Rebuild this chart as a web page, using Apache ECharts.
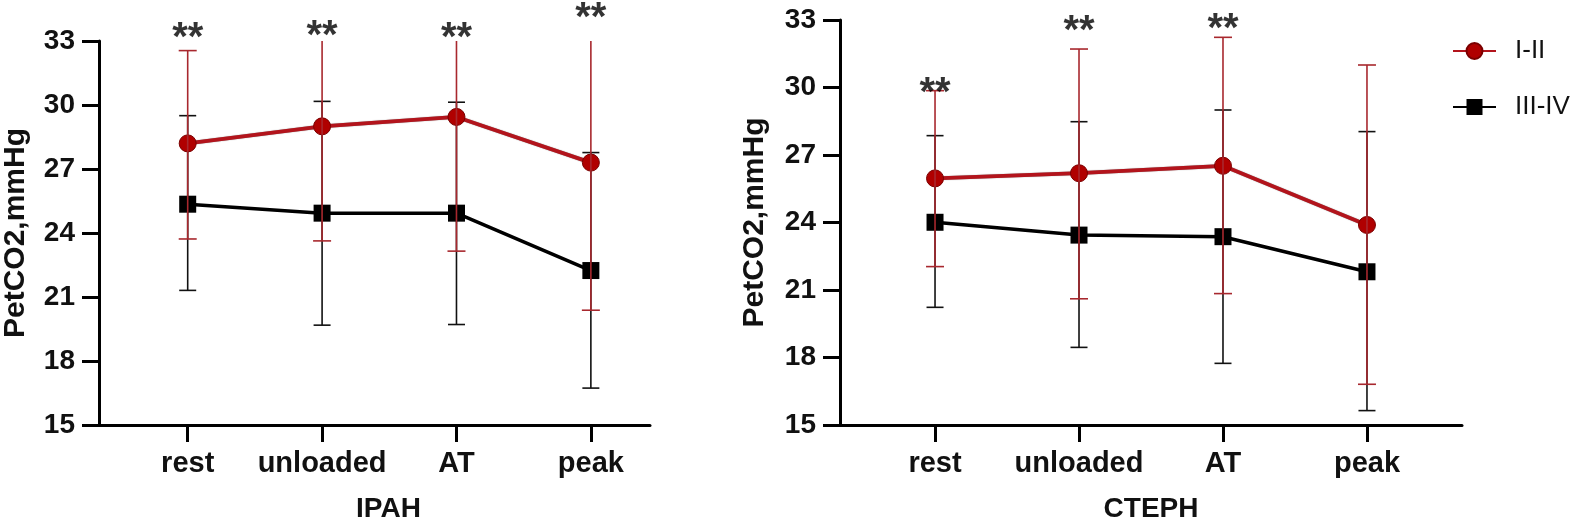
<!DOCTYPE html>
<html>
<head>
<meta charset="utf-8">
<script src="https://cdn.jsdelivr.net/npm/echarts@6/dist/echarts.min.js"></script>
<style>
html,body{margin:0;padding:0;background:#fff;}
#chart{width:1592px;height:528px;}
</style>
</head>
<body>
<div id="chart"></div>
<script>
// ---- data ----
const categories = ['rest', 'unloaded', 'AT', 'peak'];
const yTickMin = 15, yTickMax = 33, yTickStep = 3;
const seriesNames = ['I-II', 'III-IV'];

// IPAH
const ipahMildMean = [28.2, 29.0, 29.44, 27.3];
const ipahMildLow = [23.72, 23.63, 23.15, 20.38];
const ipahMildHigh = [32.55, 34.37, 35.73, 34.22];
const ipahSevereMean = [25.35, 24.93, 24.93, 22.24];
const ipahSevereLow = [21.31, 19.68, 19.71, 16.73];
const ipahSevereHigh = [29.5, 30.17, 30.13, 27.77];
const ipahStars = ['**', '**', '**', '**'];
const ipahStarY = [33.56, 33.66, 33.56, 34.5];

// CTEPH
const ctephMildMean = [25.96, 26.19, 26.52, 23.89];
const ctephMildLow = [22.04, 20.61, 20.84, 16.81];
const ctephMildHigh = [29.86, 31.71, 32.23, 31.0];
const ctephSevereMean = [24.01, 23.44, 23.37, 21.81];
const ctephSevereLow = [20.23, 18.45, 17.74, 15.64];
const ctephSevereHigh = [27.86, 28.48, 29.0, 28.04];
const ctephStars = ['**', '**', '**', ''];
const ctephStarY = [30.16, 32.91, 33.0, null];

// ---- styles ----
const RED = '#b3141c';
const RED_BAR = '#a8282e';
const BLACK = '#000';
const FONT = "'Liberation Sans', Arial, sans-serif";

const idx = categories.map((_, i) => i);
const pts = (vals) => vals.map((v, i) => [idx[i], v]);
const bars = (lo, hi) => lo.map((v, i) => [idx[i], v, hi[i]]);
const stars = (labels, ys) => ys.map((v, i) => ({ value: [idx[i], v], label: labels[i] }));

function errRender(capW, color, lw) {
  return function (params, api) {
    const x = api.value(0), lo = api.value(1), hi = api.value(2);
    const a = api.coord([x, lo]), b = api.coord([x, hi]);
    const h = capW / 2;
    const st = { stroke: color, lineWidth: lw };
    return {
      type: 'group',
      children: [
        { type: 'line', shape: { x1: a[0], y1: a[1], x2: b[0], y2: b[1] }, style: st },
        { type: 'line', shape: { x1: a[0] - h, y1: a[1], x2: a[0] + h, y2: a[1] }, style: st },
        { type: 'line', shape: { x1: b[0] - h, y1: b[1], x2: b[0] + h, y2: b[1] }, style: st }
      ]
    };
  };
}

function xAxisDef(gi, name, xmax, namePadLeft) {
  return {
    type: 'value', gridIndex: gi, min: -0.66, max: xmax,
    name: name, nameLocation: 'middle', nameGap: 70,
    nameTextStyle: { fontFamily: FONT, fontWeight: 'bold', fontSize: 28, color: '#111', padding: [0, 0, 0, namePadLeft] },
    splitLine: { show: false },
    axisLine: { show: true, onZero: false, lineStyle: { color: '#000', width: 3 } },
    axisTick: { show: true, customValues: idx, length: 17, lineStyle: { color: '#000', width: 3 } },
    axisLabel: {
      customValues: idx, margin: 24,
      formatter: (v) => categories[Math.round(v)],
      fontFamily: FONT, fontWeight: 'bold', fontSize: 29, color: '#111'
    }
  };
}
function yAxisDef(gi, gap) {
  return {
    type: 'value', gridIndex: gi, min: yTickMin, max: yTickMax, interval: yTickStep,
    name: 'PetCO2,mmHg', nameLocation: 'middle', nameGap: gap, nameRotate: 90,
    nameTextStyle: { fontFamily: FONT, fontWeight: 'bold', fontSize: 30, color: '#111' },
    splitLine: { show: false },
    axisLine: { show: true, onZero: false, lineStyle: { color: '#000', width: 3 } },
    axisTick: { show: true, length: 17, lineStyle: { color: '#000', width: 3 } },
    axisLabel: { margin: 24, fontFamily: FONT, fontWeight: 'bold', fontSize: 28, color: '#111' }
  };
}

function groupSeries(gi, mMean, mLow, mHigh, sMean, sLow, sHigh, sLabels, sY) {
  return [
    {
      type: 'custom', name: seriesNames[1] + '-err', xAxisIndex: gi, yAxisIndex: gi, clip: true, z: 2,
      renderItem: errRender(17, '#111', 1.6), data: bars(sLow, sHigh), silent: true
    },
    {
      type: 'line', name: seriesNames[1], xAxisIndex: gi, yAxisIndex: gi, z: 3,
      data: pts(sMean), symbol: 'rect', symbolSize: 17,
      lineStyle: { color: BLACK, width: 3.5 }, itemStyle: { color: BLACK }
    },
    {
      type: 'line', name: seriesNames[0], xAxisIndex: gi, yAxisIndex: gi, z: 4,
      data: pts(mMean), symbol: 'circle', symbolSize: 17,
      lineStyle: { color: RED, width: 3.8, shadowColor: 'rgba(0,0,0,0.5)', shadowBlur: 1 },
      itemStyle: { color: '#b00000', borderColor: '#7a0000', borderWidth: 1 }
    },
    {
      type: 'custom', name: seriesNames[0] + '-err', xAxisIndex: gi, yAxisIndex: gi, clip: true, z: 5,
      renderItem: errRender(18, RED_BAR, 1.6), data: bars(mLow, mHigh), silent: true
    },
    {
      type: 'scatter', xAxisIndex: gi, yAxisIndex: gi, clip: false, z: 6, symbolSize: 0,
      data: stars(sLabels, sY).filter(d => d.value[1] != null),
      label: {
        show: true, position: 'inside', offset: [0, 10],
        formatter: (p) => p.data.label,
        fontFamily: FONT, fontWeight: 'bold', fontSize: 40, color: '#000'
      },
      silent: true
    }
  ];
}

const chart = echarts.init(document.getElementById('chart'), null, { renderer: 'canvas' });
chart.setOption({
  animation: false,
  backgroundColor: '#fff',
  grid: [
    { left: 99, top: 41, width: 551, height: 386 },
    { left: 840, top: 20, width: 622, height: 405 }
  ],
  xAxis: [xAxisDef(0, 'IPAH', 3.44, 28), xAxisDef(1, 'CTEPH', 3.66, 0)],
  yAxis: [yAxisDef(0, 68), yAxisDef(1, 70)],
  legend: {
    orient: 'vertical', left: 1447, top: 33, itemWidth: 43, itemHeight: 20, itemGap: 30,
    data: [seriesNames[0], seriesNames[1]],
    textStyle: { fontFamily: FONT, fontSize: 26, color: '#111', padding: [0, 0, 0, 14] }
  },
  series: [
    ...groupSeries(0, ipahMildMean, ipahMildLow, ipahMildHigh, ipahSevereMean, ipahSevereLow, ipahSevereHigh, ipahStars, ipahStarY),
    ...groupSeries(1, ctephMildMean, ctephMildLow, ctephMildHigh, ctephSevereMean, ctephSevereLow, ctephSevereHigh, ctephStars, ctephStarY)
  ]
});
</script>
</body>
</html>
